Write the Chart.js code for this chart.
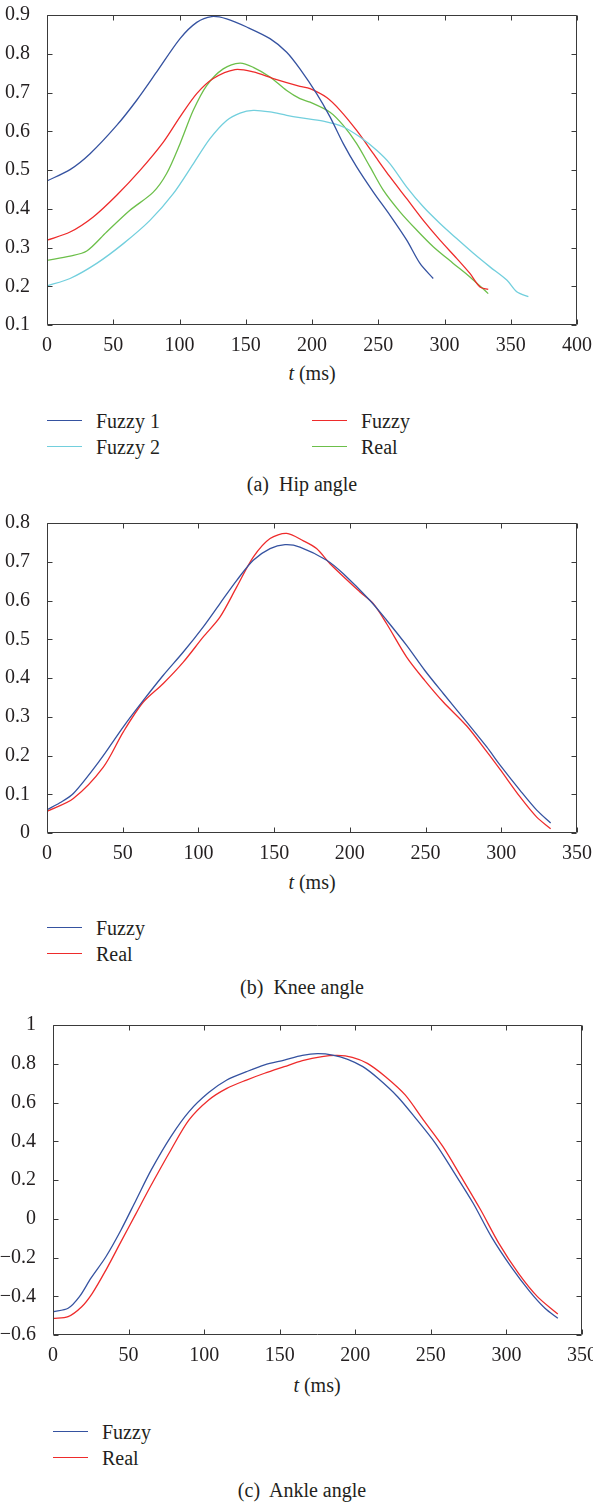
<!DOCTYPE html>
<html>
<head>
<meta charset="utf-8">
<script src="https://cdn.jsdelivr.net/npm/chart.js@4.4.1/dist/chart.umd.min.js"></script>
<style>
  body { margin: 0; background: #fff; width: 593px; height: 1503px; position: relative; overflow: hidden;
         font-family: "Liberation Serif", "DejaVu Serif", serif; color: #231f20; }
  canvas { position: absolute; left: 0; }
  .txt { position: absolute; white-space: nowrap; transform: translate(-50%, -50%); font-size: 20px; }
  .leg { position: absolute; white-space: nowrap; font-size: 20px; transform: translateY(-50%); }
  .swatch { position: absolute; height: 0; border-top: 1.5px solid; }
</style>
</head>
<body>
<canvas id="hipChart" width="593" height="360" style="top:0px"></canvas>
<canvas id="kneeChart" width="593" height="365" style="top:500px"></canvas>
<canvas id="ankleChart" width="593" height="365" style="top:1005px"></canvas>
<div id="labels"></div>
<script>
// кольори ліній
const BLUE = '#3552a0', RED = '#ee2b2b', GREEN = '#6cbf4a', CYAN = '#72cfdd';
const FONT = '"Liberation Serif", "DejaVu Serif", serif';

// (a) Hip angle
const hipTimeFuzzy1 = [0, 17.4, 32.5, 52.6, 67.7, 82.8, 100.4, 113, 124.3, 135.6, 150.7, 168.3, 180.9, 190.9, 203.5, 213.6, 223.6, 233.7, 246.3, 258.9, 271.5, 281.5, 291.5];
const hipFuzzy1 = [0.472, 0.501, 0.542, 0.615, 0.680, 0.753, 0.839, 0.881, 0.896, 0.890, 0.869, 0.839, 0.804, 0.761, 0.697, 0.637, 0.568, 0.508, 0.443, 0.383, 0.319, 0.259, 0.220];
const hipTimeFuzzy = [0, 17.4, 34.9, 52.6, 70.2, 87.8, 100.4, 113, 125.5, 141.9, 155.7, 170.8, 190.9, 198.5, 211.1, 221.2, 233.7, 246.3, 258.9, 271.5, 284, 296.6, 309.2, 319.2, 326.8, 333];
const hipFuzzy = [0.319, 0.340, 0.379, 0.435, 0.499, 0.572, 0.637, 0.697, 0.736, 0.759, 0.753, 0.736, 0.716, 0.710, 0.687, 0.654, 0.602, 0.542, 0.482, 0.426, 0.370, 0.319, 0.272, 0.233, 0.198, 0.192];
const hipTimeReal = [0, 17.4, 30, 45, 62.6, 80.2, 90.3, 100.4, 110.4, 120.5, 133, 145.7, 155.7, 168.3, 180.9, 190.9, 198.5, 213.6, 223.6, 233.7, 243.8, 253.8, 266.4, 279, 291.5, 306.6, 319.2, 333];
const hipReal = [0.267, 0.278, 0.291, 0.340, 0.396, 0.443, 0.491, 0.568, 0.654, 0.718, 0.761, 0.776, 0.765, 0.740, 0.705, 0.684, 0.675, 0.649, 0.615, 0.568, 0.508, 0.448, 0.392, 0.345, 0.302, 0.259, 0.224, 0.181];
const hipTimeFuzzy2 = [0, 17.4, 37.5, 57.6, 77.7, 95.3, 110.4, 123, 135.6, 145.7, 155.7, 168.3, 180.9, 190.9, 208.5, 223.6, 236.2, 248.8, 258.9, 271.5, 284, 296.6, 309.2, 321.8, 334.3, 347, 354.5, 363.3];
const hipFuzzy2 = [0.201, 0.220, 0.259, 0.310, 0.370, 0.439, 0.516, 0.581, 0.628, 0.647, 0.654, 0.650, 0.641, 0.635, 0.626, 0.611, 0.585, 0.551, 0.516, 0.456, 0.405, 0.362, 0.323, 0.285, 0.250, 0.216, 0.186, 0.173];

// (b) Knee angle
const kneeTimeFuzzy = [0, 8.5, 17.4, 35, 50.4, 63.6, 76.8, 90, 103.2, 114.2, 125.3, 136.2, 147.3, 157.2, 167, 184.7, 195.7, 213.3, 224.3, 237.5, 249.4, 261.7, 277.2, 290.4, 299.2, 312.4, 323.4, 332.6];
const kneeFuzzy = [0.060, 0.078, 0.102, 0.188, 0.274, 0.342, 0.407, 0.467, 0.532, 0.592, 0.652, 0.704, 0.734, 0.744, 0.738, 0.704, 0.669, 0.600, 0.549, 0.484, 0.420, 0.360, 0.286, 0.222, 0.175, 0.110, 0.059, 0.026];
const kneeTimeReal = [0, 17.4, 37.2, 50.4, 63.6, 76.8, 90, 103.2, 114.2, 125.3, 136.2, 147.3, 158.3, 169.3, 178, 186.9, 206.7, 215.5, 224.3, 237.5, 249.4, 261.7, 277.2, 290.4, 299.2, 312.4, 323.4, 332.6];
const kneeReal = [0.056, 0.089, 0.170, 0.261, 0.338, 0.386, 0.441, 0.506, 0.557, 0.635, 0.712, 0.760, 0.773, 0.754, 0.734, 0.695, 0.622, 0.592, 0.540, 0.454, 0.394, 0.338, 0.276, 0.210, 0.164, 0.093, 0.041, 0.011];

// (c) Ankle angle
const ankleTimeFuzzy = [0, 10, 17.5, 25, 35, 45, 55, 65, 78, 90, 103, 115, 128, 140, 153, 165, 175, 185, 195, 205, 215, 228, 240, 253, 265, 278, 290, 303, 315.5, 325.5, 334];
const ankleFuzzy = [-0.480, -0.462, -0.402, -0.308, -0.196, -0.058, 0.097, 0.252, 0.424, 0.553, 0.651, 0.716, 0.759, 0.794, 0.819, 0.843, 0.852, 0.845, 0.823, 0.785, 0.725, 0.630, 0.518, 0.389, 0.243, 0.080, -0.092, -0.247, -0.376, -0.462, -0.514];
const ankleTimeReal = [0, 10, 19, 26, 35, 45, 55, 65, 78, 90, 103, 115, 128, 140, 153, 165, 178, 188, 198, 208, 220, 233, 245, 258, 270, 283, 295, 308, 320.5, 334];
const ankleReal = [-0.514, -0.505, -0.454, -0.385, -0.265, -0.118, 0.028, 0.174, 0.355, 0.510, 0.613, 0.673, 0.716, 0.751, 0.785, 0.816, 0.837, 0.843, 0.833, 0.802, 0.733, 0.639, 0.510, 0.372, 0.217, 0.045, -0.127, -0.282, -0.402, -0.492];

function toPoints(t, v) {
    return t.map((x, i) => ({ x: x, y: v[i] }));
}

function fmt(v) {
    return String(Math.round(v * 10) / 10).replace('-', '\u2212');
}

// рамка і внутрішні риски як у Matlab
const framePlugin = {
    id: 'frame',
    afterDraw(chart) {
        const { ctx, chartArea: a, scales } = chart;
        const L = Math.round(a.left) + 0.5, R = Math.round(a.right) - 0.5;
        const T = Math.round(a.top) + 0.5, B = Math.round(a.bottom) - 0.5;
        ctx.save();
        ctx.strokeStyle = '#3a3a3a';
        ctx.lineWidth = 1;
        ctx.beginPath();
        ctx.rect(L, T, R - L, B - T);
        scales.x.ticks.forEach(tk => {
            const px = Math.round(scales.x.getPixelForValue(tk.value)) + 0.5;
            ctx.moveTo(px, B); ctx.lineTo(px, B - 5);
            ctx.moveTo(px, T); ctx.lineTo(px, T + 5);
        });
        scales.y.ticks.forEach(tk => {
            const py = Math.round(scales.y.getPixelForValue(tk.value)) + 0.5;
            ctx.moveTo(L, py); ctx.lineTo(L + 5, py);
            ctx.moveTo(R, py); ctx.lineTo(R - 5, py);
        });
        ctx.stroke();
        ctx.restore();
    }
};

function makeChart(id, datasets, opt) {
    const ctx = document.getElementById(id).getContext('2d');
    return new Chart(ctx, {
        type: 'line',
        data: {
            datasets: datasets.map(d => ({
                label: d.label,
                data: d.data,
                borderColor: d.color,
                borderWidth: 1.3,
                pointRadius: 0,
                fill: false,
                tension: 0.3
            }))
        },
        options: {
            responsive: false,
            animation: false,
            layout: { padding: { top: opt.top, right: opt.right, left: 0, bottom: 0 } },
            plugins: { legend: { display: false }, tooltip: { enabled: false } },
            scales: {
                x: {
                    type: 'linear',
                    min: 0, max: opt.xMax,
                    grid: { display: false },
                    border: { display: false },
                    ticks: {
                        stepSize: 50, autoSkip: false, maxRotation: 0, minRotation: 0,
                        padding: 1, color: '#231f20',
                        font: { family: FONT, size: 20 }
                    },
                    afterFit(s) { s.height = opt.xHeight; s.paddingLeft = 0; s.paddingRight = 0; }
                },
                y: {
                    min: opt.yMin, max: opt.yMax,
                    grid: { display: false },
                    border: { display: false },
                    ticks: {
                        stepSize: opt.yStep, padding: opt.yPad, color: '#231f20',
                        font: { family: FONT, size: 20 },
                        callback: v => fmt(v)
                    },
                    afterFit(s) { s.width = opt.yWidth; s.paddingTop = 0; s.paddingBottom = 0; }
                }
            }
        },
        plugins: [framePlugin]
    });
}

const hipSeries = [
    { label: 'Fuzzy 1', color: BLUE, data: toPoints(hipTimeFuzzy1, hipFuzzy1) },
    { label: 'Fuzzy 2', color: CYAN, data: toPoints(hipTimeFuzzy2, hipFuzzy2) },
    { label: 'Fuzzy', color: RED, data: toPoints(hipTimeFuzzy, hipFuzzy) },
    { label: 'Real', color: GREEN, data: toPoints(hipTimeReal, hipReal) }
];
const kneeSeries = [
    { label: 'Fuzzy', color: BLUE, data: toPoints(kneeTimeFuzzy, kneeFuzzy) },
    { label: 'Real', color: RED, data: toPoints(kneeTimeReal, kneeReal) }
];
const ankleSeries = [
    { label: 'Fuzzy', color: BLUE, data: toPoints(ankleTimeFuzzy, ankleFuzzy) },
    { label: 'Real', color: RED, data: toPoints(ankleTimeReal, ankleReal) }
];

makeChart('hipChart', hipSeries, { top: 15, right: 16, xHeight: 35, xMax: 400, yMin: 0.1, yMax: 0.9, yStep: 0.1, yWidth: 47, yPad: 9 });
makeChart('kneeChart', kneeSeries, { top: 23, right: 16, xHeight: 32, xMax: 350, yMin: 0, yMax: 0.8, yStep: 0.1, yWidth: 47, yPad: 9 });
makeChart('ankleChart', ankleSeries, { top: 20, right: 11, xHeight: 35, xMax: 350, yMin: -0.6, yMax: 1, yStep: 0.2, yWidth: 53, yPad: 9 });

// підписи осей, легенди та заголовки
const box = document.getElementById('labels');
function addText(html, x, y) {
    const d = document.createElement('div');
    d.className = 'txt';
    d.style.left = x + 'px'; d.style.top = y + 'px';
    d.innerHTML = html;
    box.appendChild(d);
}
function addLegend(label, color, x, y) {
    const s = document.createElement('div');
    s.className = 'swatch';
    s.style.left = x + 'px'; s.style.top = (y - 0.75) + 'px';
    s.style.width = '35px'; s.style.borderColor = color;
    box.appendChild(s);
    const t = document.createElement('div');
    t.className = 'leg';
    t.style.left = (x + 49) + 'px'; t.style.top = y + 'px';
    t.textContent = label;
    box.appendChild(t);
}

addText('<i>t</i> (ms)', 312, 373);
addLegend(hipSeries[0].label, hipSeries[0].color, 47, 421);
addLegend(hipSeries[1].label, hipSeries[1].color, 47, 447);
addLegend(hipSeries[2].label, hipSeries[2].color, 312, 421);
addLegend(hipSeries[3].label, hipSeries[3].color, 312, 447);
addText('(a)&nbsp; Hip angle', 302, 484);

addText('<i>t</i> (ms)', 312, 882);
addLegend(kneeSeries[0].label, kneeSeries[0].color, 47, 928);
addLegend(kneeSeries[1].label, kneeSeries[1].color, 47, 954);
addText('(b)&nbsp; Knee angle', 302, 987);

addText('<i>t</i> (ms)', 317, 1385);
addLegend(ankleSeries[0].label, ankleSeries[0].color, 53, 1432);
addLegend(ankleSeries[1].label, ankleSeries[1].color, 53, 1458);
addText('(c)&nbsp; Ankle angle', 302, 1490);
</script>
</body>
</html>
